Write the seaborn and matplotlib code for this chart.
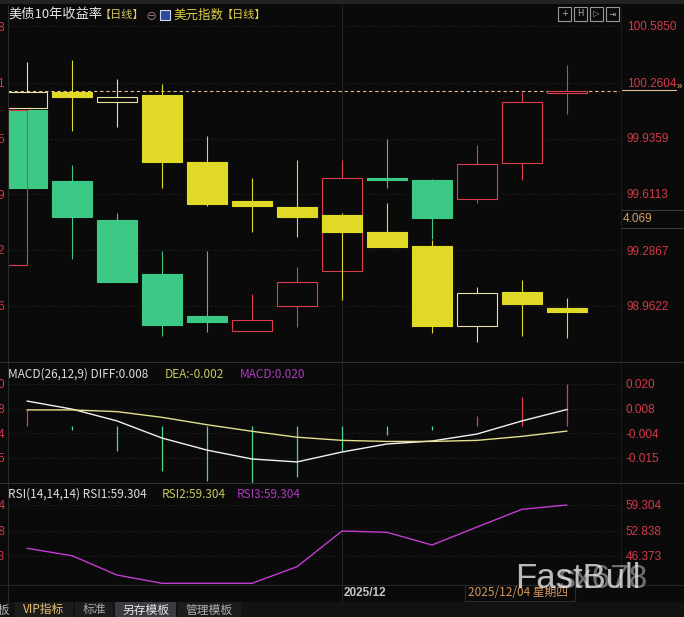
import matplotlib
matplotlib.use("Agg")
import matplotlib.pyplot as plt
import matplotlib.transforms as mtrans
from matplotlib.patches import Rectangle
from matplotlib.lines import Line2D
import pandas as pd
import seaborn as sns

# ---------------- data ----------------
days = list(range(1, 14))
month_start_day = 8

yield_open  = [4.1233, 4.1026, 4.0912, 4.0755, 4.0633, 4.0589, 4.0662, 4.0764, 4.1035, 4.1029, 4.0974, 4.1079, 4.1283]
yield_high  = [4.1233, 4.1073, 4.0933, 4.0822, 4.0822, 4.0697, 4.0775, 4.1088, 4.1149, 4.1032, 4.1131, 4.1286, 4.1365]
yield_low   = [4.1006, 4.0799, 4.0732, 4.0574, 4.0586, 4.0589, 4.0600, 4.0764, 4.1006, 4.0857, 4.0962, 4.1029, 4.1222]
yield_close = [4.1006, 4.0921, 4.0732, 4.0606, 4.0615, 4.0621, 4.0732, 4.1035, 4.1029, 4.0918, 4.1076, 4.1257, 4.1289]
yield_prev_open, yield_prev_close = 4.0781, 4.1233

dxy_open  = [100.110, 100.202, 100.144, 100.185, 99.797, 99.571, 99.536, 99.490, 99.391, 99.310, 98.846, 99.043, 98.951]
dxy_high  = [100.376, 100.388, 100.278, 100.249, 99.947, 99.704, 99.808, 99.501, 99.559, 99.345, 99.072, 99.113, 99.009]
dxy_low   = [100.110, 99.976, 99.999, 99.646, 99.542, 99.391, 99.362, 98.997, 99.304, 98.806, 98.754, 98.788, 98.777]
dxy_close = [100.202, 100.173, 100.173, 99.797, 99.553, 99.542, 99.478, 99.391, 99.304, 98.846, 99.038, 98.974, 98.927]

macd_diff = [0.0118, 0.0080, 0.0024, -0.0057, -0.0114, -0.0156, -0.0170, -0.0123, -0.0085, -0.0071, -0.0038, 0.0024, 0.0078]
macd_dea  = [0.0076, 0.0076, 0.0068, 0.0041, 0.0006, -0.0025, -0.0053, -0.0068, -0.0073, -0.0073, -0.0068, -0.0049, -0.0024]
macd_bar  = [0.0076, -0.0019, -0.0118, -0.0213, -0.0260, -0.0268, -0.0241, -0.0118, -0.0043, -0.0019, 0.0047, 0.0137, 0.0200]

rsi_vals = [48.32, 46.45, 41.55, 39.45, 39.45, 39.45, 43.66, 52.71, 52.38, 49.16, 53.72, 58.21, 59.304]

yield_ticks  = [4.1478, 4.1312, 4.1149, 4.0988, 4.0825, 4.0662]
yield_labels = ["4.148", "4.131", "4.115", "4.099", "4.082", "4.066"]
dxy_ticks    = [100.5850, 100.2604, 99.9359, 99.6113, 99.2867, 98.9622]
dxy_labels   = ["100.5850", "100.2604", "99.9359", "99.6113", "99.2867", "98.9622"]
macd_ticks   = [0.0199, 0.0081, -0.0034, -0.0151]
macd_labels  = ["0.020", "0.008", "-0.004", "-0.015"]
rsi_ticks    = [59.304, 52.838, 46.373]
rsi_labels   = ["59.304", "52.838", "46.373"]

cursor_value = "4.069"
month_label = "2025/12"
date_label = "2025/12/04 星期四"
tabs = ["VIP指标", "标准", "另存模板", "管理模板"]

# ---------------- style ----------------
BG = "#0a0a0a"
sns.set_theme(style="dark", rc={"axes.facecolor": BG, "figure.facecolor": BG,
                                "axes.edgecolor": BG, "grid.color": "#222222"})
plt.rcParams["font.family"] = ["Noto Sans CJK SC", "DejaVu Sans"]

RED = "#dc3f4c"
GREEN = "#3cc985"
YEL = "#e0da26"
YEL_H = "#e6e2a0"
AXRED = "#d23a48"
NUMF = "Liberation Sans"

W, H = 684, 617
fig = plt.figure(figsize=(W / 100, H / 100), dpi=100)


def rect(x0, y0, x1, y1):
    return [x0 / W, 1 - y1 / H, (x1 - x0) / W, (y1 - y0) / H]


def fx(x):
    return x / W


def fy(y):
    return 1 - y / H


XL = (1 + (8 - 27) / 45, 1 + (620 - 27) / 45)
CW = 0.867

ax_y = fig.add_axes(rect(8, 5, 620, 362))
ax_d = ax_y.twinx()
ax_m = fig.add_axes(rect(8, 362, 620, 483))
ax_r = fig.add_axes(rect(8, 483, 620, 585))

for a in (ax_y, ax_d, ax_m, ax_r):
    a.set_xlim(*XL)
    for s in a.spines.values():
        s.set_visible(False)
    a.set_xticks([])
    a.grid(False)

ax_y.set_ylim(4.0498, 4.15395)
ax_d.set_ylim(98.6376, 100.7067)
ax_m.set_ylim(-0.02696, 0.03027)
ax_r.set_ylim(39.02, 64.882)

grid_kw = dict(color="#262626", lw=0.8, ls=(0, (1, 2)), zorder=0)
for t in yield_ticks:
    ax_y.axhline(t, **grid_kw)
for t in macd_ticks:
    ax_m.axhline(t, **grid_kw)
for t in rsi_ticks:
    ax_r.axhline(t, **grid_kw)
for a in (ax_y, ax_m, ax_r):
    a.axvline(month_start_day, color="#242424", lw=0.8, zorder=0)


def candles(ax, o, h, l, c, dn_col, up_edge, z):
    for x, oo, hh, ll, cc in zip(days, o, h, l, c):
        up = cc >= oo
        col = up_edge if up else dn_col
        ax.vlines(x, ll, hh, color=col, lw=0.8, zorder=z)
        b = min(oo, cc)
        ht = abs(cc - oo)
        face = BG if up else dn_col
        ax.add_patch(Rectangle((x - CW / 2, b), CW, ht, facecolor=face,
                               edgecolor=col, lw=0.8, zorder=z + 0.5))


candles(ax_y, yield_open, yield_high, yield_low, yield_close, GREEN, RED, 2)
ax_y.add_patch(Rectangle((0.3, yield_prev_open), 0.7, yield_prev_close - yield_prev_open,
                         facecolor="none", edgecolor=RED, lw=0.8, zorder=5))
ax_y.axhline(yield_close[-1], color="#e2bc98", lw=0.8, ls=(0, (3, 2.5)), zorder=1.5)
candles(ax_d, dxy_open, dxy_high, dxy_low, dxy_close, YEL, YEL_H, 2)

# ticks
ax_y.set_yticks(yield_ticks)
ax_y.set_yticklabels(yield_labels, color=AXRED, fontsize=8.5, family=NUMF)
ax_y.tick_params(axis="y", length=0, pad=2, left=False, labelleft=True)
ax_d.set_yticks(dxy_ticks)
ax_d.set_yticklabels(dxy_labels, color=AXRED, fontsize=8.5, family=NUMF)
ax_d.tick_params(axis="y", length=0, pad=5, right=False, labelright=True)
for a, tk, lb in ((ax_m, macd_ticks, macd_labels), (ax_r, rsi_ticks, rsi_labels)):
    a.set_yticks(tk)
    a.set_yticklabels(lb, color=AXRED, fontsize=8.5, family=NUMF)
    a.tick_params(axis="y", length=0, pad=2, left=False, right=False,
                  labelleft=True, labelright=True)
    for t in a.yaxis.get_major_ticks():
        t.label2.set_transform(t.label2.get_transform() +
                               mtrans.ScaledTranslation(3 / 100, 0, fig.dpi_scale_trans))

# MACD
cols = [RED if v >= 0 else "#4cd890" for v in macd_bar]
ax_m.vlines(days, 0, macd_bar, colors=cols, lw=0.9, zorder=2)
dfm = pd.DataFrame({"day": days, "DIFF": macd_diff, "DEA": macd_dea})
sns.lineplot(data=dfm, x="day", y="DIFF", ax=ax_m, color="#f2f2f2", lw=1, zorder=3)
sns.lineplot(data=dfm, x="day", y="DEA", ax=ax_m, color="#e2e08c", lw=1, zorder=3)

# RSI
dfr = pd.DataFrame({"day": days, "RSI": rsi_vals})
sns.lineplot(data=dfr, x="day", y="RSI", ax=ax_r, color="#c43cd2", lw=1, zorder=3)

for a in (ax_y, ax_d, ax_m, ax_r):
    a.set_xlabel("")
    a.set_ylabel("")
    a.set_xlim(*XL)


# ---------------- frame lines ----------------
def hline(y, x0, x1, col, lw=0.8):
    fig.add_artist(Line2D([fx(x0), fx(x1)], [fy(y), fy(y)], color=col, lw=lw))


def vline(x, y0, y1, col, lw=0.8):
    fig.add_artist(Line2D([fx(x), fx(x)], [fy(y0), fy(y1)], color=col, lw=lw))


fig.add_artist(Rectangle((0, fy(4)), 1, 4 / H, transform=fig.transFigure,
                         facecolor="#232323", edgecolor="none"))
hline(362, 0, 684, "#2e2e2e")
hline(483, 0, 684, "#2e2e2e")
hline(585, 0, 684, "#262626")
vline(7.5, 5, 602, "#2a2a2a")
vline(620.5, 5, 585, "#1c1c1c")
vline(342, 585, 602, "#242424")

# last close extension and cursor box
hline(90, 622, 676, "#e2bc98")
fig.text(fx(677), fy(86), "»", color="#d8c060", fontsize=7, va="center", family=NUMF)
fig.add_artist(Rectangle((fx(621), fy(228)), 63 / W, 18 / H, transform=fig.transFigure,
                         facecolor=BG, edgecolor="#3c3c3c", lw=0.8))
fig.text(fx(623), fy(219), cursor_value, color="#d9a066", fontsize=8.5, va="center", family=NUMF)

# ---------------- titles ----------------
fig.text(fx(8), fy(15), "美债10年收益率", color="#e8e8e8", fontsize=9.5, va="center")
fig.text(fx(100), fy(15), "【日线】", color="#d8c860", fontsize=8, va="center")
fig.text(fx(146), fy(16), "⊖", color="#b88c8c", fontsize=8, va="center")
fig.add_artist(Rectangle((fx(160), fy(20)), 10 / W, 10 / H, transform=fig.transFigure,
                         facecolor="#2c4a9c", edgecolor="#d0d8f0", lw=0.8))
fig.text(fx(173), fy(15), "美元指数", color="#e0d040", fontsize=9, va="center")
fig.text(fx(222), fy(15), "【日线】", color="#e0d040", fontsize=8, va="center")
for x0, g in zip([558, 574, 590, 606], ["+", "H", "▷", "⇥"]):
    fig.add_artist(Rectangle((fx(x0), fy(21)), 13 / W, 14 / H, transform=fig.transFigure,
                             facecolor=BG, edgecolor="#9a9a9a", lw=0.8))
    fig.text(fx(x0 + 6.5), fy(14), g, color="#b0b0b0", fontsize=6, ha="center", va="center",
             family=["DejaVu Sans"])

fig.text(fx(8), fy(374), f"MACD(26,12,9) DIFF:{macd_diff[-1]:.3f}", color="#dedede", fontsize=8.5, va="center")
fig.text(fx(165), fy(374), f"DEA:{macd_dea[-1]:.3f}", color="#c8c860", fontsize=8.5, va="center")
fig.text(fx(240), fy(374), f"MACD:{macd_bar[-1]:.3f}", color="#b438c4", fontsize=8.5, va="center")
fig.text(fx(8), fy(494), f"RSI(14,14,14) RSI1:{rsi_vals[-1]:.3f}", color="#dedede", fontsize=8.5, va="center")
fig.text(fx(162), fy(494), f"RSI2:{rsi_vals[-1]:.3f}", color="#c8c860", fontsize=8.5, va="center")
fig.text(fx(237), fy(494), f"RSI3:{rsi_vals[-1]:.3f}", color="#b438c4", fontsize=8.5, va="center")

# ---------------- date strip ----------------
fig.text(fx(344), fy(593), month_label, color="#c4c4c4", fontsize=8.5, va="center",
         family=NUMF, weight="bold")
fig.add_artist(Rectangle((fx(465), fy(601)), 110 / W, 16 / H, transform=fig.transFigure,
                         facecolor=BG, edgecolor="#2c2c2c", lw=0.8))
fig.text(fx(468), fy(593), date_label, color="#d4965a", fontsize=8.5, va="center")

# watermark
fig.text(fx(515), fy(578), "FastBull", color="white", alpha=0.72, fontsize=25,
         va="center", family=NUMF)
fig.text(fx(558), fy(580), "sx678", color="#e8e8e8", alpha=0.45, fontsize=24,
         va="center", family=NUMF)

# ---------------- tab bar ----------------
fig.add_artist(Rectangle((0, 0), 1, 15 / H, transform=fig.transFigure,
                         facecolor="#121212", edgecolor="none"))
fig.text(fx(10), fy(610), "模板", color="#b0b0b0", fontsize=8.5, ha="right", va="center")
tab_x = [(15, 73), (75, 113), (115, 176), (178, 241)]
tab_bg = ["#1c1c1c", "#1c1c1c", "#3a3a42", "#1c1c1c"]
tab_fc = ["#e8c070", "#a8a8a8", "#e6e6e6", "#b0b0b0"]
for (x0, x1), name, bgc, fc in zip(tab_x, tabs, tab_bg, tab_fc):
    fig.add_artist(Rectangle((fx(x0), 0), (x1 - x0) / W, 15 / H, transform=fig.transFigure,
                             facecolor=bgc, edgecolor="none"))
    fig.text(fx((x0 + x1) / 2), fy(610), name, color=fc, fontsize=8.5, ha="center", va="center")

fig.savefig("out.png", dpi=100, facecolor=BG)
